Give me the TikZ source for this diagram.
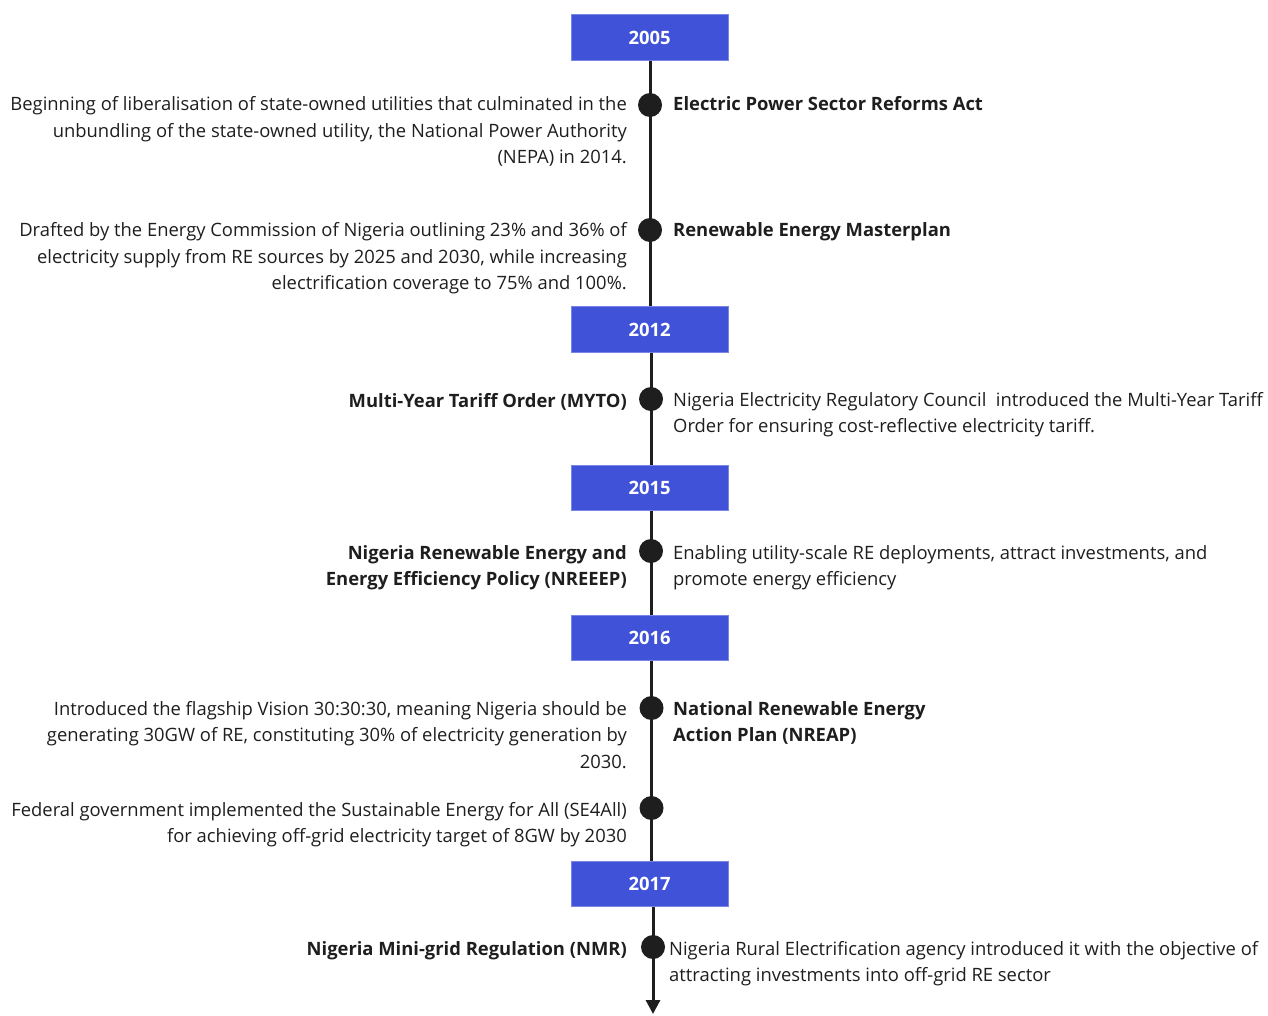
\documentclass[tikz,border=0pt]{standalone}
\usepackage{fontspec}
\setmainfont{Open Sans}
\usetikzlibrary{arrows.meta}
\definecolor{yearblue}{RGB}{63,82,216}
\definecolor{txt}{RGB}{30,30,30}
\tikzset{
  yearbox/.style={fill=yearblue, draw=yearblue!70!white, line width=0.6pt, minimum width=157pt, minimum height=45.5pt, inner sep=0pt, text=white, font=\fontsize{18.4}{22}\selectfont\bfseries},
  tdot/.style={circle, fill=txt, minimum size=24pt, inner sep=0pt},
  tline/.style={draw=txt, line width=3pt},
  ltext/.style={anchor=north east, align=right, inner sep=0pt, text=txt, font=\fontsize{18.4}{26.5}\selectfont},
  rtext/.style={anchor=north west, align=left, inner sep=0pt, text=txt, font=\fontsize{18.4}{26.5}\selectfont},
  ltextb/.style={ltext, font=\fontsize{18.4}{26.5}\selectfont\bfseries},
  rtextb/.style={rtext, font=\fontsize{18.4}{26.5}\selectfont\bfseries},
}
\begin{document}
\begin{tikzpicture}[x=1pt,y=-1pt]
\useasboundingbox (0,0) rectangle (1268,1015);
% year boxes
\node[yearbox] (y2005) at (649.5,37.5) {2005};
\node[yearbox] (y2012) at (649.5,329.5) {2012};
\node[yearbox] (y2015) at (649.5,488) {2015};
\node[yearbox] (y2016) at (649.5,638) {2016};
\node[yearbox] (y2017) at (649.5,884) {2017};
\coordinate (end) at (653,1014);
% connectors
\draw[tline] (y2005.south -| 650,0) -- (y2012.north -| 650,0);
\draw[tline] (y2012.south -| 651,0) -- (y2015.north -| 651,0);
\draw[tline] (y2015.south -| 651,0) -- (y2016.north -| 651,0);
\draw[tline] (y2016.south -| 651.5,0) -- (y2017.north -| 651.5,0);
\draw[tline, -{Triangle[length=14pt,width=14pt]}] (y2017.south -| 653,0) -- (end);
% dots
\node[tdot] (d1) at (650,105) {};
\node[tdot] (d2) at (650,230) {};
\node[tdot] (d3) at (651,399) {};
\node[tdot] (d4) at (651,551) {};
\node[tdot] (d5) at (651.5,708) {};
\node[tdot] (d6) at (651.5,808) {};
\node[tdot] (d7) at (653,947) {};
% texts
\node[ltext] (l1) at (627,92) {\strut Beginning of liberalisation of state-owned utilities that culminated in the\\unbundling of the state-owned utility, the National Power Authority\\(NEPA) in 2014.};
\node[rtextb] (r1) at (673,92) {\strut Electric Power Sector Reforms Act};
\node[ltext] (l2) at (627,218) {\strut Drafted by the Energy Commission of Nigeria outlining 23\% and 36\% of\\electricity supply from RE sources by 2025 and 2030, while increasing\\electrification coverage to 75\% and 100\%.};
\node[rtextb] (r2) at (673,218) {\strut Renewable Energy Masterplan};
\node[ltextb] (l3) at (627,388.5) {\strut Multi-Year Tariff Order (MYTO)};
\node[rtext] (r3) at (673,387.5) {\strut Nigeria Electricity Regulatory Council\ \ introduced the Multi-Year Tariff\\Order for ensuring cost-reflective electricity tariff.};
\node[ltextb] (l4) at (627,540.5) {\strut Nigeria Renewable Energy and\\Energy Efficiency Policy (NREEEP)};
\node[rtext] (r4) at (673,540.5) {\strut Enabling utility-scale RE deployments, attract investments, and\\promote energy efficiency};
\node[ltext] (l5) at (627,696.5) {\strut Introduced the flagship Vision 30:30:30, meaning Nigeria should be\\generating 30GW of RE, constituting 30\% of electricity generation by\\2030.};
\node[rtextb] (r5) at (673,696.5) {\strut National Renewable Energy\\Action Plan (NREAP)};
\node[ltext] (l6) at (627,797.5) {\strut Federal government implemented the Sustainable Energy for All (SE4All)\\for achieving off-grid electricity target of 8GW by 2030};
\node[ltextb] (l7) at (627,936.5) {\strut Nigeria Mini-grid Regulation (NMR)};
\node[rtext] (r7) at (669,936.5) {\strut Nigeria Rural Electrification agency introduced it with the objective of\\attracting investments into off-grid RE sector};
\end{tikzpicture}
\end{document}
